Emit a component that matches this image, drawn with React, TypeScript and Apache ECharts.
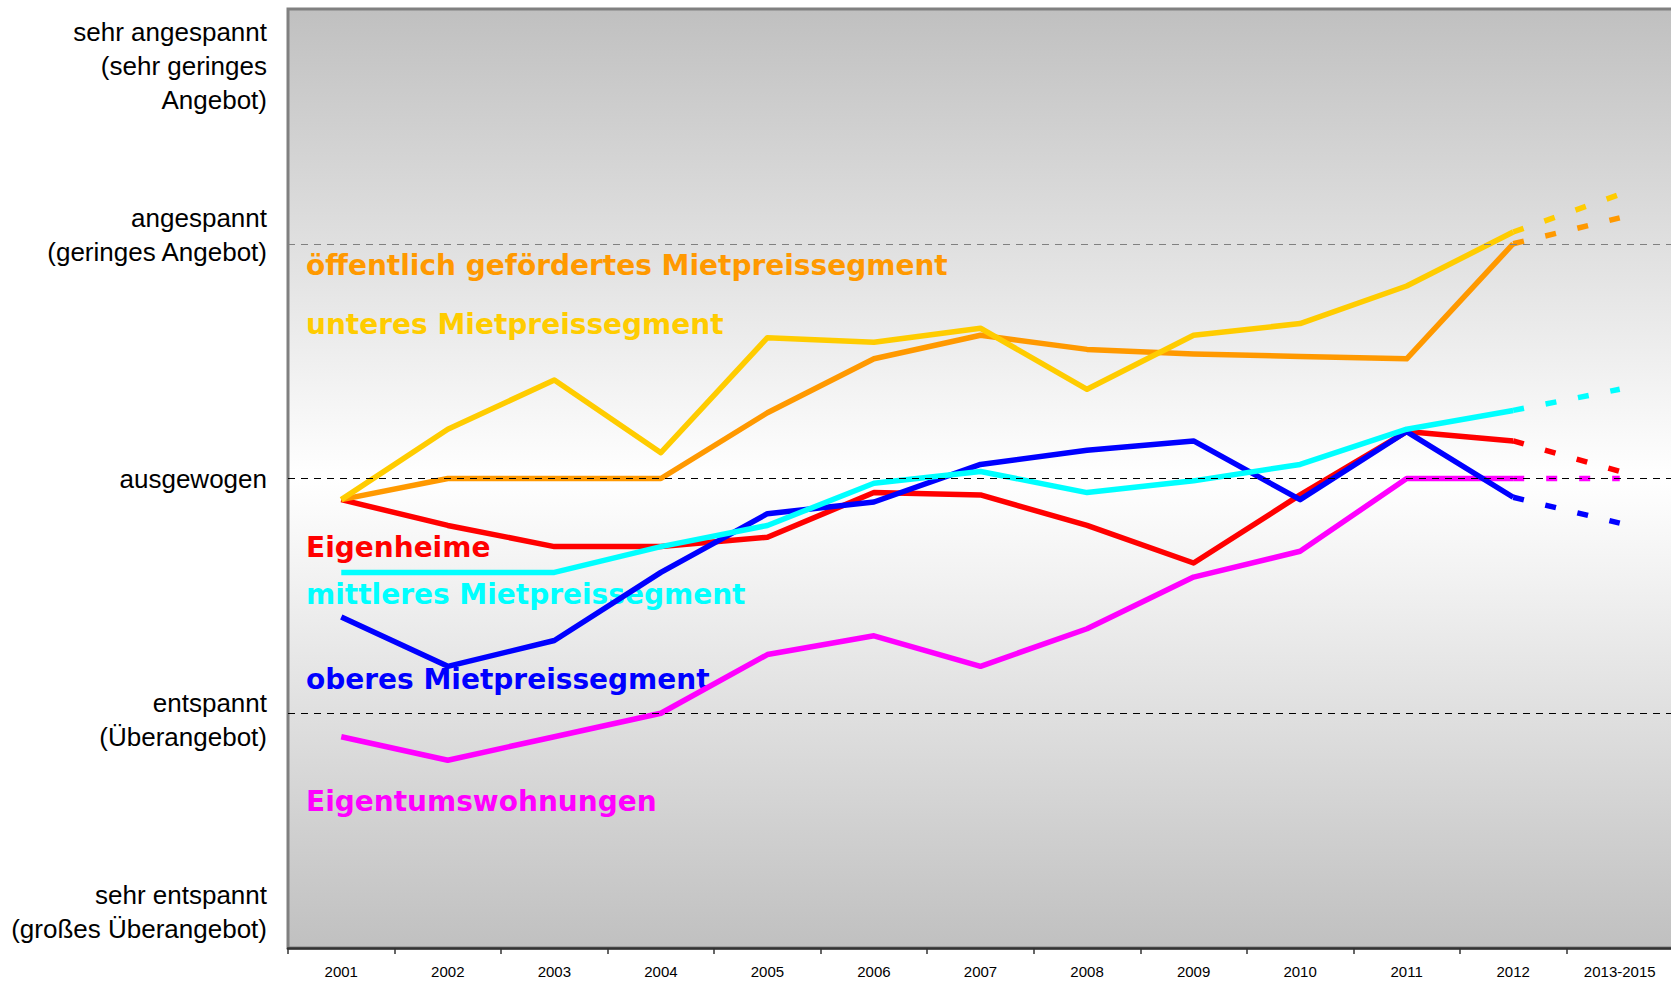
import React, { useEffect, useRef } from 'react';
import * as echarts from 'echarts';

const categories = ['2001', '2002', '2003', '2004', '2005', '2006', '2007', '2008', '2009', '2010', '2011', '2012', '2013-2015'];

const yTickLabels = [
  'sehr entspannt\n(großes Überangebot)',
  'entspannt\n(Überangebot)',
  'ausgewogen',
  'angespannt\n(geringes Angebot)',
  'sehr angespannt\n(sehr geringes\nAngebot)',
];

const seriesNames = [
  'öffentlich gefördertes Mietpreissegment',
  'unteres Mietpreissegment',
  'Eigenheime',
  'mittleres Mietpreissegment',
  'oberes Mietpreissegment',
  'Eigentumswohnungen',
];

const seriesColors = ['#FF9900', '#FFCC00', '#FF0000', '#00FFFF', '#0000FF', '#FF00FF'];

// 2001 … 2012 (observed)
const oeffentlich = [1.91, 2.0, 2.0, 2.0, 2.28, 2.51, 2.61, 2.55, 2.53, 2.52, 2.51, 3.0];
const unteres = [1.91, 2.21, 2.42, 2.11, 2.6, 2.58, 2.64, 2.38, 2.61, 2.66, 2.82, 3.05];
const eigenheime = [1.91, 1.8, 1.71, 1.71, 1.75, 1.94, 1.93, 1.8, 1.64, 1.93, 2.2, 2.16];
const mittleres = [1.6, 1.6, 1.6, 1.71, 1.8, 1.98, 2.03, 1.94, 1.99, 2.06, 2.21, 2.29];
const oberes = [1.41, 1.2, 1.31, 1.6, 1.85, 1.9, 2.06, 2.12, 2.16, 1.91, 2.2, 1.92];
const eigentum = [0.9, 0.8, 0.9, 1.0, 1.25, 1.33, 1.2, 1.36, 1.58, 1.69, 2.0, 2.0];

// 2013-2015 (projection)
const projections = [3.11, 3.21, 2.03, 2.38, 1.81, 2.0];

const referenceLevels = [3, 2, 1];

const allSeries = [oeffentlich, unteres, eigenheime, mittleres, oberes, eigentum];

// layout of the in-plot series labels (pixels)
const labelTops = [265, 324, 547, 594, 679, 801];

const FONT = "'Liberation Sans', Arial, sans-serif";

export default function App() {
  const ref = useRef<HTMLDivElement>(null);

  useEffect(() => {
    if (!ref.current) return;
    const chart = echarts.init(ref.current, undefined, { renderer: 'svg' });

    const gradient = new echarts.graphic.LinearGradient(0, 0, 0, 1, [
      { offset: 0, color: '#c0c0c0' },
      { offset: 0.5, color: '#ffffff' },
      { offset: 1, color: '#c0c0c0' },
    ]);

    const drawOrder = [5, 2, 4, 3, 0, 1];
    const lineSeries: any[] = [];
    drawOrder.forEach((k) => {
      const vals = allSeries[k];
      lineSeries.push({
        type: 'line',
        name: seriesNames[k],
        data: categories.map((_, i) => (i < vals.length ? vals[i] : null)),
        symbol: 'none',
        z: 3,
        lineStyle: { color: seriesColors[k], width: 5.5, cap: 'butt', join: 'round' },
      });
      lineSeries.push({
        type: 'line',
        name: seriesNames[k] + ' (Prognose)',
        data: categories.map((_, i) =>
          i === vals.length - 1 ? vals[vals.length - 1] : i === vals.length ? projections[k] : null
        ),
        symbol: 'none',
        z: 3,
        lineStyle: { color: seriesColors[k], width: 5.5, type: [11, 22], cap: 'butt' },
      });
    });

    const option: any = {
      animation: false,
      grid: {
        left: 288,
        top: 9,
        right: -2,
        bottom: 33,
        containLabel: false,
        outerBoundsMode: 'none',
        show: true,
        borderColor: '#808080',
        borderWidth: 3,
        backgroundColor: gradient,
      },
      xAxis: {
        type: 'category',
        data: categories,
        boundaryGap: true,
        axisLine: { show: true, lineStyle: { color: '#333333', width: 2.5 } },
        axisTick: { show: true, length: 6, lineStyle: { color: '#333333', width: 1.5 } },
        axisLabel: { color: '#000', fontSize: 15, fontFamily: FONT, margin: 16, interval: 0 },
        splitLine: { show: false },
      },
      yAxis: {
        type: 'value',
        min: 0,
        max: 4,
        interval: 1,
        axisLine: { show: false },
        axisTick: { show: false },
        splitLine: { show: false },
        axisLabel: {
          color: '#000',
          fontSize: 26,
          lineHeight: 34,
          fontFamily: FONT,
          margin: 21,
          formatter: (v: number) => {
            const i = Math.round(v);
            const t = yTickLabels[i];
            if (i === 4) return '{s4| }\n' + t;
            if (i === 3) return t + '\n{s3| }';
            if (i === 1) return '{s1| }\n' + t;
            if (i === 0) return t + '\n{s0| }';
            return t;
          },
          rich: {
            s4: { lineHeight: 114, fontSize: 4 },
            s3: { lineHeight: 18, fontSize: 4 },
            s1: { lineHeight: 13, fontSize: 4 },
            s0: { lineHeight: 72, fontSize: 4 },
          },
        },
      },
      graphic: seriesNames.map((name, k) => ({
        type: 'text',
        x: 306,
        y: labelTops[k],
        z: 1,
        style: {
          text: name,
          fill: seriesColors[k],
          fontSize: 28,
          fontWeight: 'bold',
          fontFamily: "'DejaVu Sans', sans-serif",
          verticalAlign: 'middle',
          align: 'left',
        },
      })),
      series: [
        {
          type: 'line',
          name: 'Raster',
          data: categories.map(() => null),
          symbol: 'none',
          z: 2,
          silent: true,
          markLine: {
            silent: true,
            symbol: ['none', 'none'],
            label: { show: false },
            lineStyle: { type: [7, 6], width: 1 },
            data: referenceLevels.map((lv) => ({
              yAxis: lv,
              lineStyle: { color: lv === 3 ? '#808080' : '#000000', type: [7, 6], width: 1 },
            })),
          },
        },
        ...lineSeries,
      ],
    };

    chart.setOption(option);
    return () => chart.dispose();
  }, []);

  return (
    <div
      ref={ref}
      style={{ position: 'fixed', left: 0, top: 0, width: 1671, height: 981, background: '#fff' }}
    />
  );
}
